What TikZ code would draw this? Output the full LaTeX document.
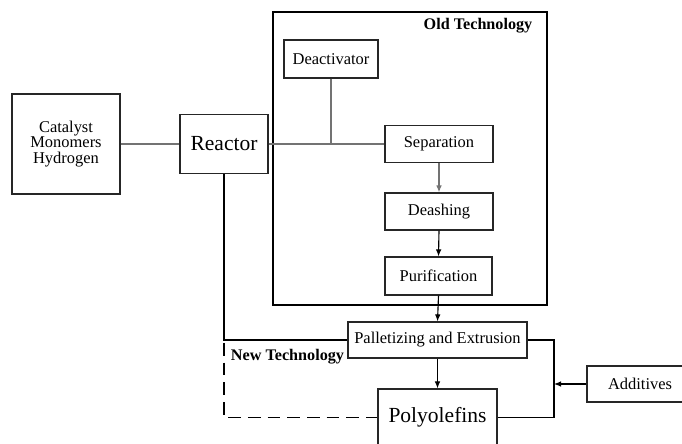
\documentclass[tikz,border=0pt]{standalone}
\usepackage{fontspec}
\setmainfont{Liberation Serif}
\usepackage{tikz}
\usetikzlibrary{arrows.meta}

\begin{document}
\begin{tikzpicture}[x=0.025cm,y=-0.025cm,
		box/.style={draw=black!85,line width=0.8pt,inner sep=0pt,font=\fontsize{11.7}{13}\selectfont},
		bigbox/.style={box,font=\fontsize{15.3}{17}\selectfont},
		feed/.style={draw=black!55,line width=0.9pt},
		flow/.style={draw=black,line width=0.8pt},
		tip/.style={-{Latex[length=5pt,width=4pt]}}
	]
		\clip (0,0) rectangle (682,444);
		\fill[white] (0,0) rectangle (682,444);
		
		% old technology frame
		\draw[line width=0.9pt] (273,12) rectangle (547,305);
		\node (oldtech) at (478,26) {\fontsize{11.5}{13}\selectfont\bfseries Old Technology};
		
		\node[box, align=center, minimum width=2.7cm, minimum height=2.5cm] (feedstock) at (66,144) {Catalyst\\[-2pt]Monomers\\[-2pt]Hydrogen};
		\node[bigbox, minimum width=2.2cm, minimum height=1.475cm] (reactor) at (224,144) {Reactor};
		\node[box, minimum width=2.35cm, minimum height=0.95cm] (deact) at (331,59) {Deactivator};
		\node[box, minimum width=2.7cm, minimum height=0.925cm] (sep) at (439,144) {Separation};
		\node[box, minimum width=2.7cm, minimum height=0.925cm] (deash) at (439,211.5) {Deashing};
		\node[box, minimum width=2.675cm, minimum height=0.95cm] (purif) at (438.5,276) {Purification};
		\node[box, minimum width=4.475cm, minimum height=0.9cm] (pellet) at (437.5,340) {Palletizing and Extrusion};
		\node[bigbox, minimum width=2.975cm, minimum height=1.425cm] (poly) at (437.5,417.5) {Polyolefins};
		\node[box, minimum width=2.65cm, minimum height=0.9cm] (addit) at (640,384) {Additives};
		\node (newtech) at (287.5,357) {\fontsize{11.5}{13}\selectfont\bfseries New Technology};
		
		\coordinate (junct) at (deact.south |- sep.west);
		\coordinate (mixer) at (554,340);
		\coordinate (dashtop) at (224,343);
		
		\draw[feed] (feedstock.east) -- (reactor.west);
		\draw[feed] (reactor.east) -- (sep.west);
		\draw[feed] (deact.south) -- (junct);
		\draw[feed, tip] (sep.south) -- (deash.north);
		\draw[flow, tip] (deash.south) -- (purif.north);
		\draw[flow, tip] (purif.south) -- (pellet.north);
		\draw[flow, tip] (pellet.south) -- (poly.north);
		\draw[flow] (reactor.south) |- (pellet.west);
		\draw[flow, dash pattern=on 9pt off 5pt] (dashtop) |- (poly.west);
		\draw[flow] (pellet.east) -- (mixer) |- (poly.east);
		\draw[flow, tip] (addit.west) -- (addit.west -| mixer);
		\end{tikzpicture}
\end{document}
